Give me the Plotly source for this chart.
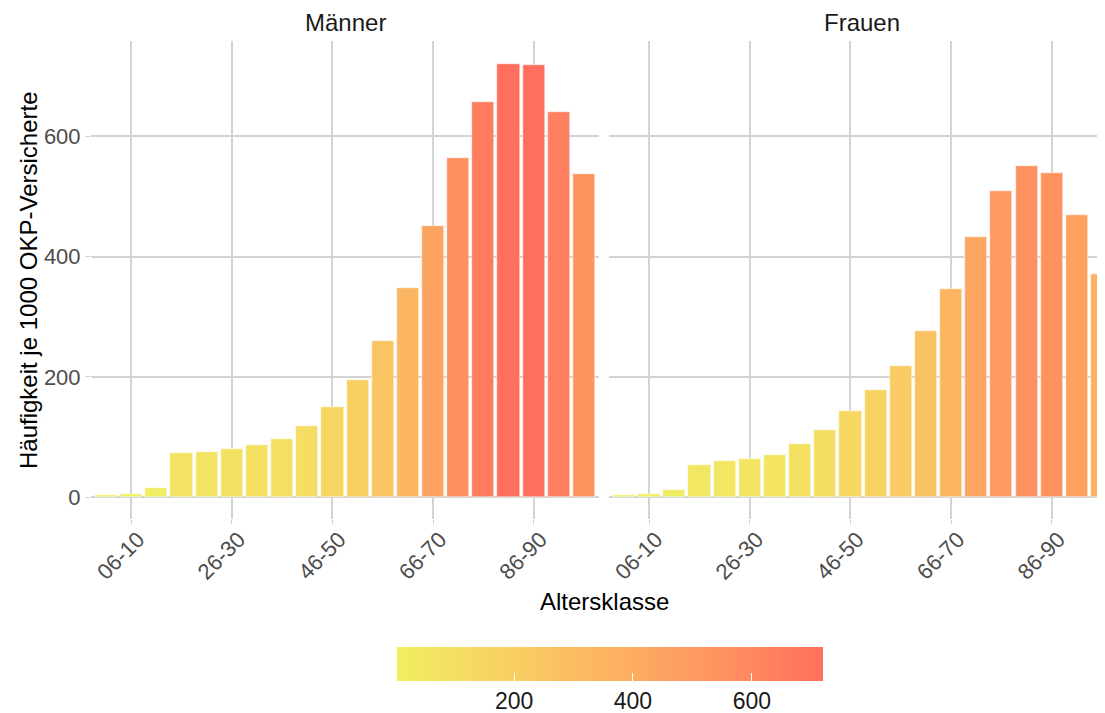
import plotly.graph_objects as go
import numpy as np

categories = ["01-05", "06-10", "11-15", "16-20", "21-25", "26-30", "31-35", "36-40",
              "41-45", "46-50", "51-55", "56-60", "61-65", "66-70", "71-75", "76-80",
              "81-85", "86-90", "91-95", "96-100"]
maenner = [4.5, 5.5, 15.5, 74, 75, 80, 87, 97.5, 118, 150, 195, 260, 347, 450, 563, 656, 720, 718, 640, 537]
frauen = [3.3, 5, 12.8, 53, 60, 63, 70, 88, 112, 143, 178, 218, 277, 346, 433, 509, 550, 539, 469, 371]
tick_labels = ["06-10", "26-30", "46-50", "66-70", "86-90"]
facet_titles = ["Männer", "Frauen"]
cbar_ticks = [200, 400, 600]

LOW, HIGH = "#F0EF62", "#FF6F5E"


def hex2rgb(h):
    h = h.lstrip("#")
    return np.array([int(h[i:i + 2], 16) for i in (0, 2, 4)]) / 255.0


def srgb2lin(c):
    return np.where(c <= 0.04045, c / 12.92, ((c + 0.055) / 1.055) ** 2.4)


def lin2srgb(c):
    c = np.clip(c, 0, 1)
    return np.where(c <= 0.0031308, 12.92 * c, 1.055 * c ** (1 / 2.4) - 0.055)


M = np.array([[0.4124, 0.3576, 0.1805], [0.2126, 0.7152, 0.0722], [0.0193, 0.1192, 0.9505]])
Mi = np.linalg.inv(M)
WP = np.array([0.95047, 1.0, 1.08883])


def f(t):
    return np.where(t > 0.008856, np.cbrt(t), 7.787 * t + 16 / 116)


def finv(t):
    return np.where(t ** 3 > 0.008856, t ** 3, (t - 16 / 116) / 7.787)


def rgb2lab(rgb):
    xyz = M @ srgb2lin(rgb) / WP
    fx, fy, fz = f(xyz)
    return np.array([116 * fy - 16, 500 * (fx - fy), 200 * (fy - fz)])


def lab2rgb(lab):
    L, a, b = lab
    fy = (L + 16) / 116
    fx = fy + a / 500
    fz = fy - b / 200
    xyz = np.array([finv(fx), finv(fy), finv(fz)]) * WP
    return lin2srgb(Mi @ xyz)


l1, l2 = rgb2lab(hex2rgb(LOW)), rgb2lab(hex2rgb(HIGH))
colorscale = []
for t in np.linspace(0, 1, 21):
    r, g, b = (lab2rgb(l1 + (l2 - l1) * t) * 255).round().astype(int)
    colorscale.append([float(t), f"rgb({r},{g},{b})"])

cmin = min(min(maenner), min(frauen))
cmax = max(max(maenner), max(frauen))

fig = go.Figure()
for i, vals in enumerate([maenner, frauen]):
    fig.add_trace(go.Bar(
        x=categories, y=vals, width=0.88,
        xaxis="x" if i == 0 else "x2", yaxis="y" if i == 0 else "y2",
        marker=dict(color=vals, colorscale=colorscale, cmin=cmin, cmax=cmax,
                    line=dict(color="white", width=0.5),
                    showscale=(i == 0),
                    colorbar=dict(orientation="h", x=0.512, xanchor="center",
                                  y=-0.268, yanchor="top", ypad=0, xpad=0,
                                  len=426, lenmode="pixels", thickness=34,
                                  outlinewidth=0, tickvals=cbar_ticks,
                                  ticks="inside", ticklen=8, tickcolor="white",
                                  tickfont=dict(size=23, color="#1A1A1A"))),
        showlegend=False, hoverinfo="x+y"))

grid = "#D3D3D3"
axis_common = dict(type="category", tickvals=tick_labels, ticktext=tick_labels,
                   tickangle=-45, showgrid=True, gridcolor=grid, gridwidth=1.5,
                   ticks="outside", ticklen=4, tickcolor=grid, automargin=False,
                   ticklabelshift=7, ticklabelstandoff=-6,
                   tickfont=dict(size=22, color="#4D4D4D"), zeroline=False, showline=False,
                   categoryorder="array", categoryarray=categories)
yaxis_common = dict(range=[-36, 758], tickvals=[0, 200, 400, 600], showgrid=True,
                    gridcolor=grid, gridwidth=1.5, zeroline=False, showline=False,
                    automargin=False, tickfont=dict(size=22, color="#4D4D4D"))

# The page places the figure 8 px in from the top-left corner, so the figure is
# sized to end exactly at the window's edge.
fig.update_layout(
    template="none",
    width=1097, height=705,
    margin=dict(l=83, r=0, t=33, b=194, autoexpand=False),
    paper_bgcolor="white", plot_bgcolor="white",
    font=dict(family="Liberation Sans, Arial, sans-serif"),
    bargap=0,
    xaxis=dict(domain=[0, 0.501], range=[-0.6, 19.6], **axis_common),
    xaxis2=dict(domain=[0.5108, 1], range=[-0.6, 19.12], **axis_common),
    yaxis=dict(anchor="x", ticks="outside", ticklen=5, tickcolor=grid, **yaxis_common),
    yaxis2=dict(anchor="x2", matches="y", showticklabels=False, ticks="", **yaxis_common),
)

annotations = [
    dict(text=facet_titles[0], x=0.2505, y=1.0397),
    dict(text=facet_titles[1], x=0.760, y=1.0397),
]
for a in annotations:
    fig.add_annotation(xref="paper", yref="paper", xanchor="center", yanchor="middle",
                       showarrow=False, font=dict(size=24, color="#1A1A1A"), **a)
fig.add_annotation(text="Häufigkeit je 1000 OKP-Versicherte", xref="paper", yref="paper",
                   x=-0.0621, y=0.5, textangle=-90, showarrow=False,
                   xanchor="center", yanchor="middle", font=dict(size=24, color="#000000"))
fig.add_annotation(text="Altersklasse", xref="paper", yref="paper", x=0.506, y=-0.1736,
                   showarrow=False, xanchor="center", yanchor="middle",
                   font=dict(size=24, color="#000000"))

fig.write_html("out.html")
